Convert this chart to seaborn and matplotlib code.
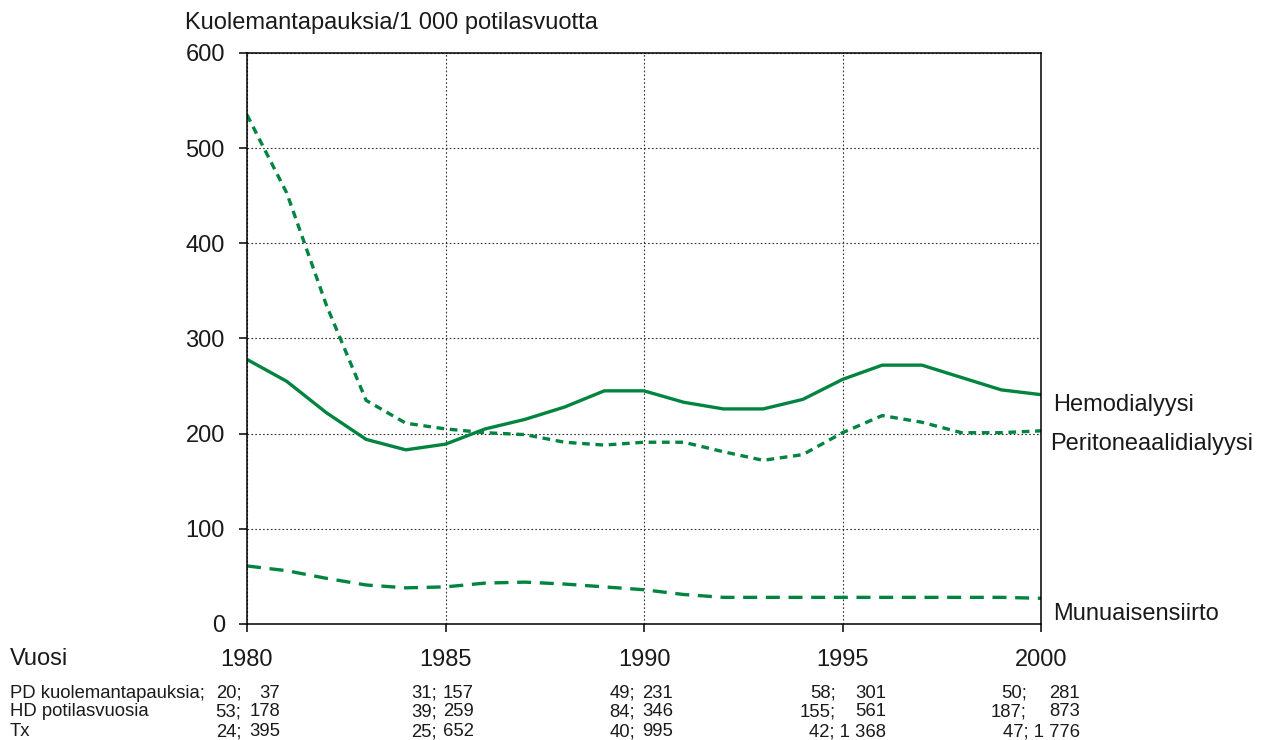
import pandas as pd
import matplotlib.pyplot as plt
import seaborn as sns

# data
years = list(range(1980, 2001))
hemodialyysi = [278, 255, 222, 194, 183, 189, 205, 215, 228, 245, 245,
                233, 226, 226, 236, 257, 272, 272, 259, 246, 241]
peritoneaali = [535, 453, 335, 235, 211, 205, 201, 199, 191, 188, 191,
                191, 181, 172, 178, 201, 219, 212, 201, 201, 203]
munuaisensiirto = [61, 56, 48, 41, 38, 39, 43, 44, 42, 39, 36,
                   31, 28, 28, 28, 28, 28, 28, 28, 28, 27]

series_names = ['Hemodialyysi', 'Peritoneaalidialyysi', 'Munuaisensiirto']

# bottom table
table_years = [1980, 1985, 1990, 1995, 2000]
table_labels = ['PD kuolemantapauksia;', 'HD potilasvuosia', 'Tx']
pd_deaths = [20, 31, 49, 58, 50]
pd_years = [37, 157, 231, 301, 281]
hd_deaths = [53, 39, 84, 155, 187]
hd_years = [178, 259, 346, 561, 873]
tx_deaths = [24, 25, 40, 42, 47]
tx_years = [395, 652, 995, 1368, 1776]

green = '#00843f'
W, H = 1264, 740

df = pd.DataFrame({
    'year': years * 3,
    'value': hemodialyysi + peritoneaali + munuaisensiirto,
    'series': [s for s in series_names for _ in years],
})

sns.set_style('white')
plt.rcParams['font.family'] = ['Liberation Sans', 'DejaVu Sans']

fig = plt.figure(figsize=(W / 100, H / 100), dpi=100)
ax = fig.add_axes([247 / W, 1 - 624 / H, (1041 - 247) / W, (624 - 53) / H])

sns.lineplot(data=df, x='year', y='value', style='series',
             dashes={'Hemodialyysi': '', 'Peritoneaalidialyysi': (2.3, 1.7),
                     'Munuaisensiirto': (4.2, 2.6)},
             color=green, linewidth=2.4, legend=False, ax=ax)

ax.set_xlim(1980, 2000)
ax.set_ylim(0, 600)
ax.set_xticks(table_years)
ax.set_yticks(range(0, 601, 100))
ax.set_xlabel('')
ax.set_ylabel('')
ax.grid(True, color='#333333', linestyle=(0, (1.5, 2)), linewidth=0.8)
ax.set_axisbelow(True)
for sp in ax.spines.values():
    sp.set_visible(True)
    sp.set_color('black')
    sp.set_linewidth(1.1)
ax.tick_params(axis='both', direction='out', length=6, width=1.1,
               color='black', labelsize=17, labelcolor='#1a1a1a')
ax.tick_params(axis='y', pad=10, left=True)
ax.tick_params(axis='x', pad=12, bottom=True)

# series labels at the right
label_y = {'Hemodialyysi': 230, 'Peritoneaalidialyysi': 189, 'Munuaisensiirto': 10}
label_x = {'Hemodialyysi': 1.015, 'Peritoneaalidialyysi': 1.012, 'Munuaisensiirto': 1.015}
for name in series_names:
    ax.text(label_x[name], label_y[name], name, transform=ax.get_yaxis_transform(),
            fontsize=17, color='#1a1a1a', va='center', ha='left')

fig.text(185 / W, 1 - 23 / H, 'Kuolemantapauksia/1 000 potilasvuotta',
         fontsize=17, color='#1a1a1a', va='center', ha='left')
fig.text(10 / W, 1 - 659 / H, 'Vuosi', fontsize=17, color='#1a1a1a',
         va='center', ha='left')

# table under the chart
row_y = [693, 712, 732]
semi_x = [241.5, 436.5, 635, 836, 1027]
end_x = [280, 474, 673, 886, 1080]
rows = [(pd_deaths, pd_years), (hd_deaths, hd_years), (tx_deaths, tx_years)]
for r, (label, (deaths, pyears)) in enumerate(zip(table_labels, rows)):
    y = 1 - row_y[r] / H
    fig.text(10 / W, y, label, fontsize=13.3, color='#1a1a1a', va='center', ha='left')
    for c in range(len(table_years)):
        if pyears[c] >= 1000:
            s = f'{deaths[c]}; {pyears[c]:,}'.replace(',', ' ')
            fig.text(end_x[c] / W, y, s, fontsize=13.3, color='#1a1a1a',
                     va='center', ha='right')
        else:
            fig.text(semi_x[c] / W, y, f'{deaths[c]};', fontsize=13.3,
                     color='#1a1a1a', va='center', ha='right')
            fig.text(end_x[c] / W, y, f'{pyears[c]}', fontsize=13.3,
                     color='#1a1a1a', va='center', ha='right')

fig.savefig('out.png', dpi=100)
